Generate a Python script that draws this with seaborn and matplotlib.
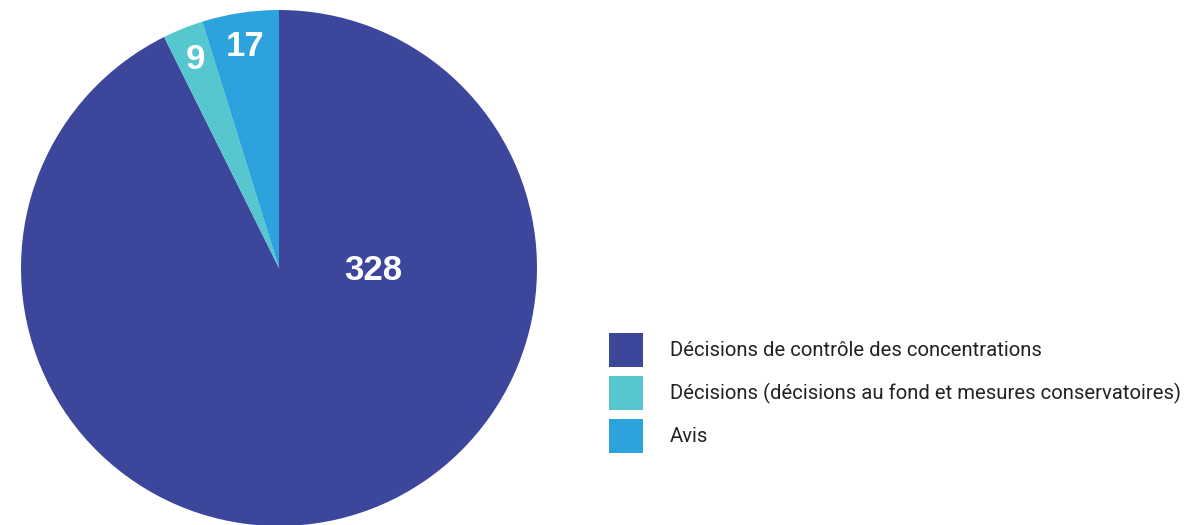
import matplotlib
matplotlib.use("Agg")
import matplotlib.pyplot as plt
import seaborn as sns
import numpy as np

# Data
categories = ["Décisions de contrôle des concentrations",
              "Décisions (décisions au fond et mesures conservatoires)",
              "Avis"]
values = [328, 9, 17]
colors = ["#3c479c", "#56c6cf", "#2ca3dc"]

sns.set_style("white")
plt.rcParams['font.family'] = ['Roboto', 'DejaVu Sans']

W, H = 1188, 525
fig = plt.figure(figsize=(W / 100, H / 100), dpi=100)

# pie axes: center (279, 268) px, radius 258 px
cx, cy, r = 279, 268, 258
ax = fig.add_axes([(cx - r) / W, (H - cy - r) / H, 2 * r / W, 2 * r / H])
wedges, _ = ax.pie(values, colors=colors, startangle=90, counterclock=False,
                   wedgeprops=dict(linewidth=0))
ax.set_xlim(-1, 1)
ax.set_ylim(-1, 1)
ax.set_aspect('equal')
ax.axis('off')

# value labels
for i, (w, v) in enumerate(zip(wedges, values)):
    if i == 0:
        x, y = 0.365, -0.01
    else:
        ang = np.deg2rad((w.theta1 + w.theta2) / 2)
        x, y = 0.87 * np.cos(ang), 0.87 * np.sin(ang)
    ax.text(x, y, str(v), ha='center', va='center', color='white',
            fontsize=25, fontweight='bold', family=['Liberation Sans', 'DejaVu Sans'])

# legend: square handles of 34 px, row pitch 43 px
fs = 14.6
pt = 72 / 100 / fs                # px -> font units
box = 34 * pt
hh = (box - 0.245) / 0.65         # matplotlib subtracts a descent from handleheight
leg = fig.legend(wedges, categories, loc='upper left',
                 bbox_to_anchor=(609 / W, 1 - 333 / H), frameon=False,
                 fontsize=fs, handlelength=box, handleheight=hh,
                 handletextpad=27 * pt, labelspacing=9 * pt,
                 borderpad=0, borderaxespad=0)
for t in leg.get_texts():
    t.set_color('#222222')

fig.savefig("out.png", dpi=100)
